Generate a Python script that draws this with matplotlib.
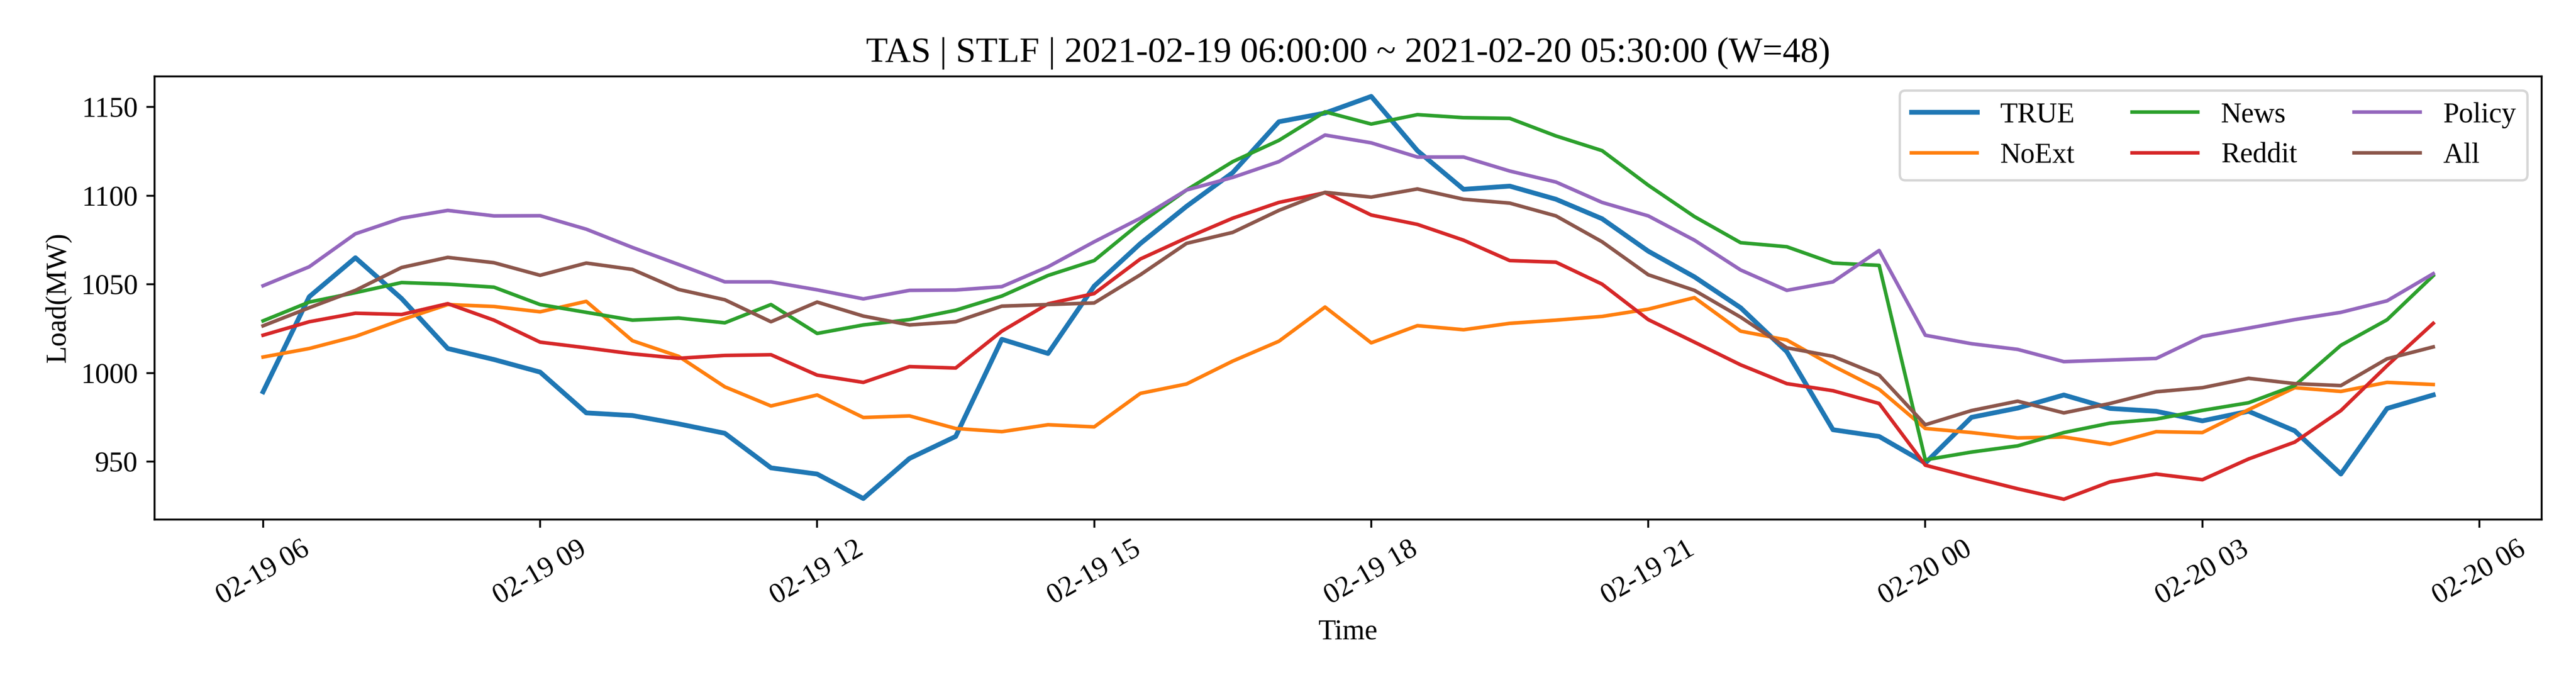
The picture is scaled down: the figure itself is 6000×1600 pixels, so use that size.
import matplotlib
matplotlib.use("Agg")
import matplotlib.pyplot as plt
import matplotlib.dates as mdates
import pandas as pd

plt.rcParams['font.family'] = ['Liberation Serif', 'DejaVu Serif']
plt.rcParams['font.size'] = 12

times = pd.date_range("2021-02-19 06:00:00", periods=48, freq="30min")

true_vals = [989.4, 1043, 1065, 1042, 1013.8, 1007.6, 1000.5, 977.5, 976, 971.3,
             966, 946.5, 943, 929.2, 951.8, 964.2, 1019, 1011, 1049, 1073,
             1094, 1113, 1141.7, 1146.6, 1156, 1125.4, 1103.6, 1105.4, 1098, 1087,
             1068.7, 1054.2, 1036.8, 1012, 968, 964.2, 949.2, 975, 980.2, 987.6,
             980, 978.4, 973, 978.4, 967.4, 943, 980, 987.6]

noext_vals = [1009, 1013.8, 1020.6, 1030, 1038.6, 1037.5, 1034.5, 1040.4, 1018.2, 1009.4,
              992.2, 981.4, 987.6, 974.9, 975.8, 968.7, 966.9, 970.8, 969.6, 988.5,
              993.8, 1006.7, 1017.9, 1037.2, 1017, 1026.7, 1024.4, 1028, 1029.8, 1031.9,
              1036, 1042.5, 1023.6, 1018.6, 1004, 990.8, 968.7, 966.4, 963.4, 963.9,
              959.8, 966.9, 966.4, 979.3, 991.7, 989.6, 994.7, 993.5]

news_vals = [1029.4, 1040, 1045.3, 1051, 1050.1, 1048.4, 1038.6, 1034.2, 1029.8, 1031,
             1028.3, 1038.6, 1022.3, 1027.1, 1030.1, 1035.4, 1043.4, 1055, 1063.4, 1084.7,
             1103.2, 1119.2, 1131.2, 1147.3, 1140.4, 1145.7, 1144, 1143.6, 1133.7, 1125.4,
             1105.9, 1088.2, 1073.5, 1071.2, 1062, 1060.7, 951, 955.4, 958.9, 966.4,
             971.7, 974, 978.9, 983.2, 992.9, 1015.6, 1030, 1054.9]

reddit_vals = [1021.3, 1028.9, 1033.7, 1033, 1039.1, 1029.8, 1017.4, 1014.2, 1010.8, 1008.3,
               1009.9, 1010.3, 998.8, 994.7, 1003.6, 1002.8, 1023.6, 1039, 1044.8, 1064.3,
               1076.2, 1087.3, 1096.2, 1101.7, 1089.1, 1083.8, 1074.9, 1063.4, 1062.5, 1050.1,
               1030.1, 1017.4, 1004.6, 994, 990, 982.8, 948, 941.2, 934.7, 928.8,
               938.6, 943, 939.8, 951.5, 961, 978.8, 1004.1, 1028]

policy_vals = [1049.2, 1059.9, 1078.5, 1087.3, 1091.7, 1088.6, 1088.7, 1081.1, 1070.8, 1061.2,
               1051.4, 1051.4, 1046.9, 1041.8, 1046.6, 1046.8, 1048.7, 1059.9, 1074, 1087.3,
               1103.2, 1110.3, 1119.2, 1134.2, 1129.8, 1121.8, 1121.8, 1113.9, 1107.7, 1096.2,
               1088.6, 1074.9, 1058.1, 1046.6, 1051.4, 1069.1, 1021.3, 1016.5, 1013.3, 1006.4,
               1007.3, 1008.2, 1020.6, 1025.3, 1030.1, 1034.2, 1040.7, 1056]

all_vals = [1026.6, 1036.8, 1046.6, 1059.5, 1065.2, 1062.2, 1055.1, 1062, 1058.4, 1047.1,
            1041.3, 1028.9, 1040, 1032.1, 1027.1, 1028.9, 1037.7, 1038.6, 1039.5, 1055.4,
            1073.1, 1079.3, 1091.7, 1101.9, 1099.2, 1103.8, 1098, 1095.8, 1088.6, 1074,
            1055.4, 1046.6, 1031.5, 1014.2, 1009.4, 998.8, 970.8, 978.8, 984.1, 977.5,
            982.8, 989.4, 991.7, 997, 994, 992.9, 1008, 1014.7]

series_names = ["TRUE", "NoExt", "News", "Reddit", "Policy", "All"]
series_vals = [true_vals, noext_vals, news_vals, reddit_vals, policy_vals, all_vals]
series_colors = ["#1f77b4", "#ff7f0e", "#2ca02c", "#d62728", "#9467bd", "#8c564b"]

fig, ax = plt.subplots(figsize=(15, 4), dpi=400)
for name, vals, c in zip(series_names, series_vals, series_colors):
    lw = 2.0 if name == "TRUE" else 1.5
    ax.plot(times, vals, color=c, lw=lw, label=name)

ax.set_title("TAS | STLF | 2021-02-19 06:00:00 ~ 2021-02-20 05:30:00 (W=48)", fontsize=15)
ax.set_xlabel("Time", fontsize=12)
ax.set_ylabel("Load(MW)", fontsize=12)
ax.xaxis.set_major_locator(mdates.HourLocator(byhour=range(0, 24, 3)))
ax.xaxis.set_major_formatter(mdates.DateFormatter("%m-%d %H"))
ax.set_yticks([950, 1000, 1050, 1100, 1150])
for lab in ax.get_xticklabels():
    lab.set_rotation(30)
ax.tick_params(labelsize=12)
ax.legend(loc="upper right", ncol=3, fontsize=12, handlelength=2.3)

fig.subplots_adjust(left=0.06, right=0.9867, top=0.889, bottom=0.244)
fig.savefig("out.png", dpi=400)
